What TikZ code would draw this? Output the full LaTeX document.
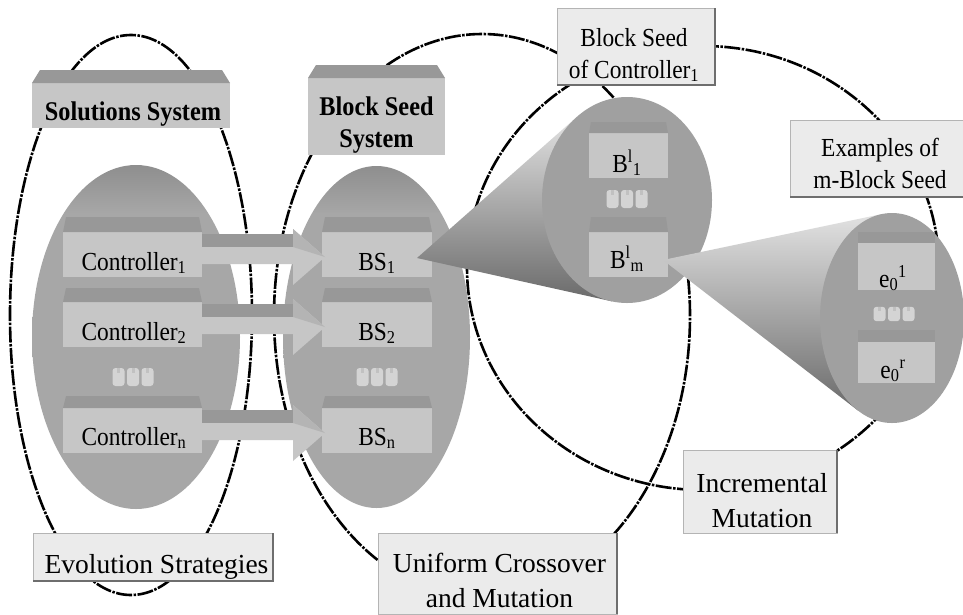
\documentclass[tikz,border=0pt]{standalone}
\usepackage{fontspec}
\setmainfont{Liberation Serif}
\newfontfamily\condserif{Liberation Serif}[FakeStretch=0.9]
\usetikzlibrary{calc,shapes.geometric}
\definecolor{ellg}{HTML}{A7A7A7}
\definecolor{ellrim}{HTML}{8E8E8E}
\definecolor{bigell}{HTML}{A0A0A0}
\definecolor{rectg}{HTML}{C6C6C6}
\definecolor{stripg}{HTML}{989898}
\definecolor{headg}{HTML}{B4B4B4}
\definecolor{lblg}{HTML}{EBEBEB}
\definecolor{lblborder}{HTML}{B4B4B4}
\definecolor{shadowg}{HTML}{6E6E6E}
\definecolor{dotg}{HTML}{D4D4D4}
\definecolor{conelt}{HTML}{E2E2E2}
\definecolor{conedk}{HTML}{6A6A6A}
\pgfdeclareverticalshading{ellsh}{100bp}{color(0bp)=(ellg); color(68bp)=(ellg); color(75bp)=(ellrim); color(100bp)=(ellrim)}
\newcommand\topstrip[3]{\fill[stripg] (#1.north west) -- ([xshift=#3,yshift=#2]#1.north west) -- ([xshift=-#3,yshift=#2]#1.north east) -- (#1.north east) -- cycle;}
\newcommand\blkarrow[2]{%
  \fill[rectg] let \p1=(#1.north east), \p2=(#2.north west) in
    (\x1,\y1-2pt) -- (\x2-29pt,\y1-2pt) -- (\x2-29pt,\y1+3pt) -- (\x2+3pt,\y1-25pt) -- (\x2-29pt,\y1-53pt) -- (\x2-29pt,\y1-32pt) -- (\x1,\y1-32pt) -- cycle;
  \fill[stripg] let \p1=(#1.north east), \p2=(#2.north west) in
    (\x1,\y1-2pt) rectangle (\x2-29pt,\y1-15pt);
  \fill[headg] let \p1=(#1.north east), \p2=(#2.north west) in
    (\x2-29pt,\y1+3pt) -- (\x2+3pt,\y1-25pt) -- (\x2-29pt,\y1-15pt) -- cycle;
}
\begin{document}
\begin{tikzpicture}[x=1pt,y=-1pt,
  dcurve/.style={draw=black, line width=2.6pt, dash pattern=on 16pt off 1.5pt on 2.5pt off 1.5pt},
  gell/.style={ellipse, inner sep=0pt, outer sep=0pt, fill=bigell},
  rimell/.style={ellipse, inner sep=0pt, outer sep=0pt, shade, shading=ellsh},
  cbox/.style={rectangle, inner sep=0pt, outer sep=0pt, fill=rectg},
  lblbox/.style={rectangle, inner sep=0pt, outer sep=0pt, fill=lblg, draw=lblborder, line width=0.7pt},
  shadowline/.style={draw=shadowg, line width=1.4pt},
  intxt/.style={inner sep=0pt, anchor=base, font=\condserif\fontsize{26}{30}\selectfont},
  boldtxt/.style={inner sep=0pt, anchor=base, align=center, font=\condserif\bfseries\fontsize{27}{32}\selectfont},
  smltxt/.style={inner sep=0pt, anchor=base, align=center, font=\condserif\fontsize{26}{32}\selectfont},
  bigtxt/.style={inner sep=0pt, anchor=base, align=center, font=\fontsize{27.5}{35}\selectfont},
  cups/.pic={
    \foreach \dx in {-14.5,0,14.5}{
      \fill[dotg, rounded corners=3pt] (\dx-6,-9) rectangle (\dx+6,9);
      \fill[stripg!60] (\dx-1.5,-9) rectangle (\dx+1.5,-4);
    }}
]
\useasboundingbox (0,0) rectangle (963,614);
\fill[white] (0,0) rectangle (963,614);

% dash-dotted grouping ellipses
\draw[dcurve] (131,315) ellipse [x radius=121pt, y radius=280pt];
\draw[dcurve] (482,316) ellipse [x radius=208pt, y radius=282pt];
\draw[dcurve] (703,268) ellipse [x radius=236pt, y radius=222pt];

% system ellipses
\node[rimell, minimum width=208pt, minimum height=344pt] (solell) at (136,337) {};
\node[rimell, minimum width=187pt, minimum height=342pt] (bsell) at (376.5,337) {};

% system title boxes
\node[cbox, minimum width=198pt, minimum height=45pt] (ss) at (131,105.5) {};
\topstrip{ss}{13pt}{8pt}
\node[boldtxt] (sst) at (133,120) {Solutions System};
\node[cbox, minimum width=137pt, minimum height=77pt] (bss) at (376.5,116.5) {};
\topstrip{bss}{13pt}{8pt}
\node[boldtxt] (bsst) at (376.5,147) {Block Seed\\System};

% controllers
\node[cbox, minimum width=139pt, minimum height=45pt] (c1) at (132.5,254.5) {};
\topstrip{c1}{15pt}{3pt}
\node[intxt] (c1t) at (134,270) {Controller\textsubscript{1}};
\node[cbox, minimum width=139pt, minimum height=45pt] (c2) at (132.5,324.5) {};
\topstrip{c2}{14pt}{3pt}
\node[intxt] (c2t) at (134,340) {Controller\textsubscript{2}};
\node[cbox, minimum width=139pt, minimum height=45pt] (cn) at (132.5,430.5) {};
\topstrip{cn}{12pt}{3pt}
\node[intxt] (cnt) at (134,445) {Controller\textsubscript{n}};
\pic at (133,377) {cups};

% block seeds
\node[cbox, minimum width=110pt, minimum height=45pt] (bs1) at (377,254.5) {};
\topstrip{bs1}{15pt}{3pt}
\node[intxt] (bs1t) at (377,270) {BS\textsubscript{1}};
\node[cbox, minimum width=110pt, minimum height=45pt] (bs2) at (377,324.5) {};
\topstrip{bs2}{14pt}{3pt}
\node[intxt] (bs2t) at (377,340) {BS\textsubscript{2}};
\node[cbox, minimum width=110pt, minimum height=45pt] (bsn) at (377,430.5) {};
\topstrip{bsn}{12pt}{3pt}
\node[intxt] (bsnt) at (377,445) {BS\textsubscript{n}};
\pic at (377,377) {cups};

% block arrows
\blkarrow{c1}{bs1}
\blkarrow{c2}{bs2}
\blkarrow{cn}{bsn}

% cone 1 and block seed of controller 1
\coordinate (blc) at (627,200);
\shade[top color=conelt, bottom color=conedk] ([xshift=-15pt,yshift=-3.5pt]bs1.east) -- ($(blc)+(126.5:85pt and 103pt)$) -- ($(blc)+(-100:85pt and 103pt)$) -- cycle;
\node[gell, minimum width=170pt, minimum height=206pt] (blell) at (blc) {};
\node[cbox, minimum width=79pt, minimum height=45pt] (bl1) at (628.5,155.5) {};
\topstrip{bl1}{11pt}{2pt}
\node[intxt] (bl1t) at (627,172) {B\textsuperscript{l}\textsubscript{1}};
\pic at (627,199) {cups};
\node[cbox, minimum width=79pt, minimum height=45pt] (blm) at (628.5,254.5) {};
\topstrip{blm}{15pt}{2pt}
\node[intxt] (blmt) at (627,268) {B\textsuperscript{l}\textsubscript{m}};

% cone 2 and examples
\coordinate (mc) at (892,318);
\shade[top color=conelt, bottom color=conedk] ([xshift=-5pt,yshift=-5.5pt]blm.east) -- ($(mc)+(98:72pt and 105pt)$) -- ($(mc)+(-118:72pt and 105pt)$) -- cycle;
\node[gell, minimum width=144pt, minimum height=210pt] (mell) at (mc) {};
\node[cbox, minimum width=77pt, minimum height=47pt] (e1) at (896.5,266.5) {};
\topstrip{e1}{11pt}{0pt}
\node[intxt] (e1t) at (893,287) {e\textsubscript{0}\textsuperscript{1}};
\pic[yscale=0.8] at (894,314) {cups};
\node[cbox, minimum width=77pt, minimum height=41pt] (er) at (896.5,362.5) {};
\topstrip{er}{12pt}{0pt}
\node[intxt] (ert) at (893,378) {e\textsubscript{0}\textsuperscript{r}};

% label boxes
\node[lblbox, minimum width=158pt, minimum height=77pt] (bsoc) at (636,46.5) {};
\draw[shadowline] (bsoc.north east) -- (bsoc.south east) -- (bsoc.south west);
\node[smltxt] (bsoct) at (634,78) {Block Seed\\of Controller\textsubscript{1}};

\node[lblbox, minimum width=173pt, minimum height=77pt] (ex) at (876.5,158.5) {};
\draw[shadowline] (ex.south east) -- (ex.south west);
\node[smltxt] (ext) at (880,188) {Examples of\\m-Block Seed};

\node[lblbox, minimum width=154pt, minimum height=83pt] (im) at (760,491.5) {};
\draw[shadowline] (im.north east) -- (im.south east);
\node[bigtxt] (imt) at (762,527) {Incremental\\Mutation};

\node[lblbox, minimum width=239pt, minimum height=81pt] (uc) at (497.5,573.5) {};
\draw[shadowline] (uc.north east) -- (uc.south east);
\node[bigtxt] (uct) at (499.5,607) {Uniform Crossover\\and Mutation};

\node[lblbox, minimum width=240pt, minimum height=48pt] (es) at (153,557) {};
\draw[shadowline] (es.north east) -- (es.south east) -- (es.south west);
\node[bigtxt] (est) at (156.5,573) {Evolution Strategies};
\end{tikzpicture}
\end{document}
